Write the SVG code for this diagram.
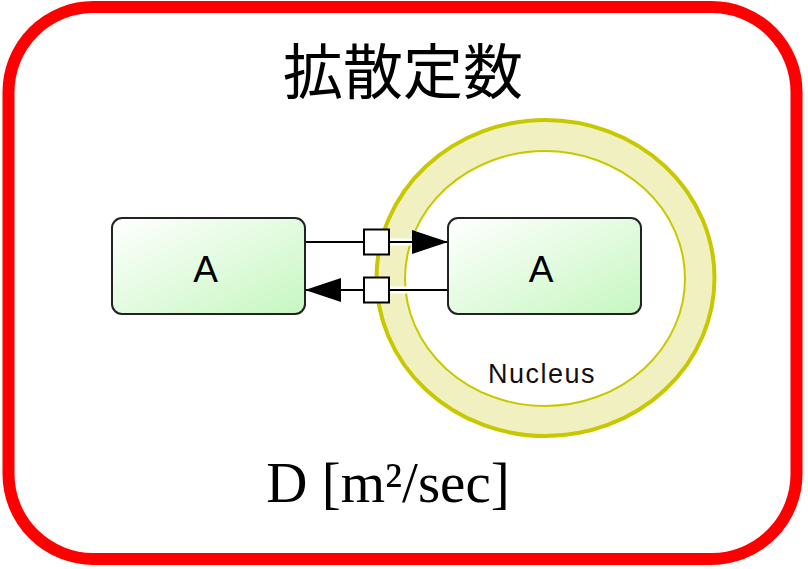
<svg xmlns="http://www.w3.org/2000/svg" width="808" height="569" viewBox="0 0 808 569">
  <defs>
    <linearGradient id="boxFill" x1="0" y1="0" x2="1" y2="1">
      <stop offset="0" stop-color="#ffffff"/>
      <stop offset="1" stop-color="#c6f7c0"/>
    </linearGradient>
    <marker id="arrow" viewBox="0 0 36 24" refX="36" refY="12" markerWidth="36" markerHeight="24" markerUnits="userSpaceOnUse" orient="auto">
      <path d="M0,0 L36,12 L0,24 Z" fill="#000"/>
    </marker>
    <style>
      .frame { fill: #fff; stroke: #ff0000; stroke-width: 12; }
      .title { font-family: "Noto Sans CJK JP", "Noto Sans CJK SC", sans-serif; font-size: 60px; font-weight: 400; fill: #000; text-anchor: middle; }
      .formula { font-family: "Liberation Serif", "DejaVu Serif", serif; font-size: 57px; fill: #000; text-anchor: middle; }
      .species { fill: url(#boxFill); stroke: #222; stroke-width: 2; }
      .label { font-family: "Liberation Sans", Arial, sans-serif; font-size: 37px; fill: #000; text-anchor: middle; }
      .compLabel { font-family: "Liberation Sans", Arial, sans-serif; font-size: 27px; letter-spacing: 1.5px; fill: #111; text-anchor: middle; }
      .ring { fill: #f0f0c0; stroke: #c8c800; stroke-width: 4; }
      .ringInner { fill: #fff; stroke: #c8c800; stroke-width: 2; }
      .halo { stroke: #fff; stroke-width: 7; fill: none; }
      .edge { stroke: #000; stroke-width: 2; fill: none; }
      .proc { fill: #fff; stroke: #000; stroke-width: 2; }
    </style>
  </defs>

  <!-- outer frame -->
  <rect class="frame" x="8.5" y="7" width="788" height="552" rx="85" ry="85"/>

  <text class="title" x="403" y="94">拡散定数</text>

  <!-- nucleus compartment -->
  <g id="nucleus">
    <ellipse class="ring" cx="545.5" cy="278" rx="169" ry="158"/>
    <ellipse class="ringInner" cx="545" cy="278.5" rx="140" ry="127.5"/>
    <text class="compLabel" x="542" y="383">Nucleus</text>
  </g>

  <!-- transport reactions -->
  <g id="connectors">
    <line class="halo" x1="305" y1="242" x2="448" y2="242"/>
    <line class="halo" x1="305" y1="290" x2="448" y2="290"/>
    <line class="edge" x1="305" y1="242" x2="448" y2="242" marker-end="url(#arrow)"/>
    <line class="edge" x1="448" y1="290" x2="305" y2="290" marker-end="url(#arrow)"/>
    <rect class="proc" x="364" y="229.5" width="25" height="25"/>
    <rect class="proc" x="364" y="277.5" width="25" height="25"/>
  </g>

  <g id="speciesCytosol">
    <rect class="species" x="112" y="218" width="193" height="96" rx="10" ry="10"/>
    <text class="label" x="205.5" y="282">A</text>
  </g>

  <g id="speciesNucleus">
    <rect class="species" x="448" y="218" width="193" height="96" rx="10" ry="10"/>
    <text class="label" x="541" y="282">A</text>
  </g>

  <text class="formula" x="388" y="502">D [m²/sec]</text>
</svg>
